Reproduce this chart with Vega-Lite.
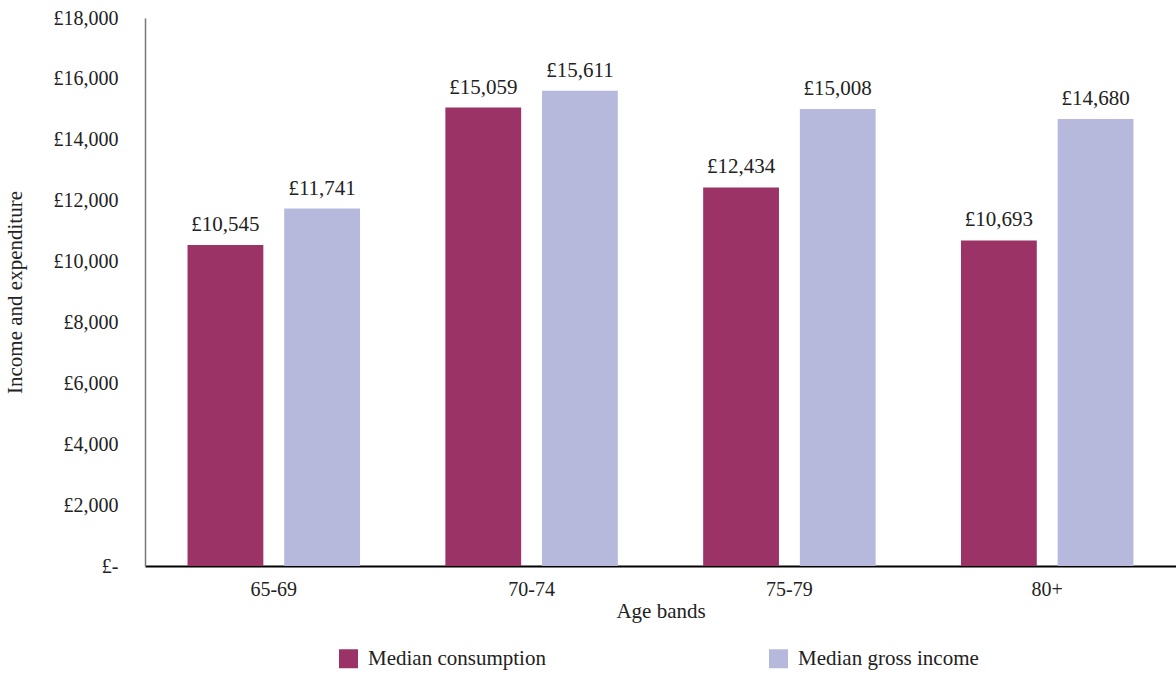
{
  "$schema": "https://vega.github.io/schema/vega-lite/v6.json",
  "width": 1031,
  "height": 548,
  "autosize": {"type": "none"},
  "padding": {"left": 145, "top": 18, "right": 0, "bottom": 109},
  "background": "white",
  "config": {
    "locale": {"number": {"decimal": ".", "thousands": ",", "grouping": [3], "currency": ["£", ""]}},
    "view": {"stroke": null},
    "font": "Liberation Serif",
    "axis": {"labelFont": "Liberation Serif", "titleFont": "Liberation Serif", "labelColor": "#222", "titleColor": "#222", "titleFontWeight": "normal"},
    "legend": {"labelFont": "Liberation Serif"}
  },
  "data": {
    "values": [
      {"age": "65-69", "series": "Median consumption", "value": 10545},
      {"age": "65-69", "series": "Median gross income", "value": 11741},
      {"age": "70-74", "series": "Median consumption", "value": 15059},
      {"age": "70-74", "series": "Median gross income", "value": 15611},
      {"age": "75-79", "series": "Median consumption", "value": 12434},
      {"age": "75-79", "series": "Median gross income", "value": 15008},
      {"age": "80+", "series": "Median consumption", "value": 10693},
      {"age": "80+", "series": "Median gross income", "value": 14680}
    ]
  },
  "encoding": {
    "x": {
      "field": "age", "type": "nominal", "sort": null,
      "scale": {"paddingInner": 0.331, "paddingOuter": 0.165},
      "axis": {
        "title": "Age bands", "labelAngle": 0, "labelFontSize": 20, "titleFontSize": 21,
        "ticks": false, "domainColor": "#000", "domainWidth": 2, "labelPadding": 13, "titlePadding": 1
      }
    },
    "xOffset": {"field": "series", "type": "nominal", "scale": {"paddingInner": 0.216, "paddingOuter": 0}},
    "y": {
      "field": "value", "type": "quantitative",
      "scale": {"domain": [0, 18000], "nice": false},
      "axis": {
        "title": "Income and expenditure", "values": [0, 2000, 4000, 6000, 8000, 10000, 12000, 14000, 16000, 18000],
        "labelExpr": "datum.value == 0 ? '£-' : '£' + format(datum.value, ',')",
        "grid": false, "ticks": false, "labelFontSize": 20, "titleFontSize": 21, "labelPadding": 27,
        "domainColor": "#777", "domainWidth": 1.5, "titlePadding": 28
      }
    }
  },
  "layer": [
    {
      "mark": {"type": "bar"},
      "encoding": {
        "color": {
          "field": "series", "type": "nominal",
          "scale": {"domain": ["Median consumption", "Median gross income"], "range": ["#9B3366", "#B7B9DC"]},
          "legend": {
            "title": null, "orient": "none", "direction": "horizontal", "legendX": 193, "legendY": 630,
            "symbolType": "square", "symbolSize": 361, "symbolStrokeWidth": 0, "labelFontSize": 21,
            "labelColor": "#222", "columnPadding": 222, "labelOffset": 9, "labelLimit": 400
          }
        }
      }
    },
    {
      "mark": {"type": "text", "baseline": "bottom", "dy": -10, "fontSize": 21, "color": "#222"},
      "encoding": {
        "text": {"field": "value", "type": "quantitative", "format": "$,"}
      }
    }
  ]
}
